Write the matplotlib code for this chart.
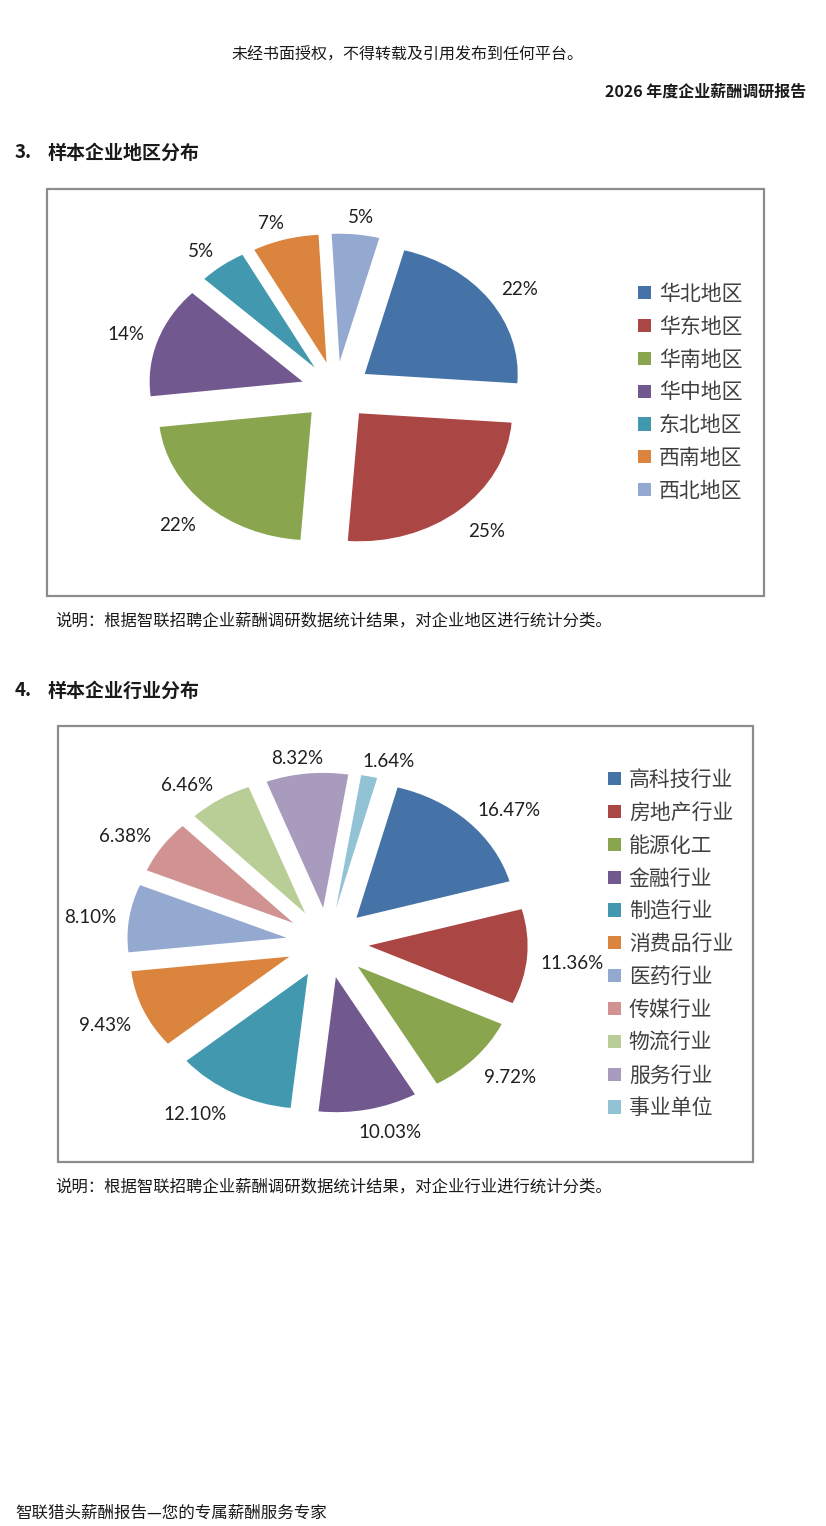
#Recreates the two exploded pie charts from the salary report page

#Imports
import matplotlib
matplotlib.use('Agg')
import numpy as np
import matplotlib.pyplot as plt
from matplotlib.patches import Rectangle

plt.rcParams['font.family'] = ['Noto Sans CJK SC', 'DejaVu Sans']

#Data - region chart
region_names = ['华北地区', '华东地区', '华南地区', '华中地区', '东北地区', '西南地区', '西北地区']
region_share = [22, 25, 22, 14, 5, 7, 5]
region_colors = ['#4572A7', '#AA4643', '#89A54E', '#71588F', '#4198AF', '#DB843D', '#93A9CF']

#Data - industry chart
industry_names = ['高科技行业', '房地产行业', '能源化工', '金融行业', '制造行业', '消费品行业',
                  '医药行业', '传媒行业', '物流行业', '服务行业', '事业单位']
industry_share = [16.47, 11.36, 9.72, 10.03, 12.10, 9.43, 8.10, 6.38, 6.46, 8.32, 1.64]
industry_colors = ['#4572A7', '#AA4643', '#89A54E', '#71588F', '#4198AF', '#DB843D',
                   '#93A9CF', '#D19392', '#B9CD96', '#A99BBD', '#91C3D5']

W, H = 826, 1526
fig = plt.figure(figsize=(W / 100, H / 100), dpi=100)
renderer = fig.canvas.get_renderer()

def fx(x):
    return x / W

def fy(y):
    return 1 - y / H

def page_text(x, y, s, size=11.5, bold=False, ha='left'):
    fig.text(fx(x), fy(y), s, fontsize=size, fontweight='bold' if bold else 'normal',
             ha=ha, va='center', color='#1a1a1a')

def frame_box(x0, y0, x1, y1):
    fig.add_artist(Rectangle((fx(x0), fy(y1)), (x1 - x0) / W, (y1 - y0) / H,
                             transform=fig.transFigure, fill=False,
                             edgecolor='#8c8c8c', lw=1.6))

def outside_end(wedges, texts, sx, sy, gap):
    """
    Move the percent labels just outside the rim, like the 'outside end' labels of
    office charts: the label box is pushed sideways by its own half width/height.
    """
    for w, t in zip(wedges, texts):
        b = np.deg2rad((w.theta1 + w.theta2) / 2)
        c, s = np.cos(b), np.sin(b)
        ex, ey = w.center
        bb = t.get_window_extent(renderer)
        hw, hh = bb.width / 2, bb.height / 2 - 2
        ox = gap * c + hw * np.clip(3 * c, -1, 1)
        oy = gap * s + hh * np.clip(3 * s, -1, 1) - 4  #small downward nudge
        t.set_position((ex + c + ox / sx, ey + s + oy / sy))

def exploded_pie(rect, cx, cy, sx, sy, values, colors, names, fmt, expl,
                 leg_xy, leg_size, leg_space, gap):
    """
    Draw one pie into the pixel rectangle rect=(x0,y0,x1,y1).
    cx, cy: pie center in pixels, sx, sy: pixels per radius unit (pie is a bit flat)
    """
    x0, y0, x1, y1 = rect
    ax = fig.add_axes([fx(x0), fy(y1), (x1 - x0) / W, (y1 - y0) / H])
    wedges, _, pct = ax.pie(values, colors=colors, startangle=75, counterclock=False,
                            explode=[expl] * len(values), autopct=fmt,
                            textprops=dict(family=['Lato', 'DejaVu Sans'], fontsize=13.5,
                                           color='#1f1f1f'))
    ax.set_aspect('auto')
    ax.set_xlim((x0 - cx) / sx, (x1 - cx) / sx)
    ax.set_ylim((cy - y1) / sy, (cy - y0) / sy)
    ax.axis('off')
    outside_end(wedges, pct, sx, sy, gap)
    ax.legend(wedges, names, loc='upper left', bbox_to_anchor=(fx(leg_xy[0]), fy(leg_xy[1])),
              bbox_transform=fig.transFigure, frameon=False, fontsize=leg_size,
              handlelength=0.6, handleheight=0.6, handletextpad=0.4,
              labelspacing=leg_space, borderpad=0, borderaxespad=0, labelcolor='#404040')
    return ax

#Page header texts
page_text(407, 55, '未经书面授权，不得转载及引用发布到任何平台。', ha='center')
page_text(806, 92, '2026 年度企业薪酬调研报告', size=11.5, bold=True, ha='right')

#Section 3 - regions
page_text(15, 153, '3.', size=13.5, bold=True)
page_text(48, 153, '样本企业地区分布', size=13.7, bold=True)
frame_box(47, 189, 764, 596)
exploded_pie((48, 190, 600, 595), 336, 391, 153, 128, region_share, region_colors,
             region_names, lambda p: '%.0f%%' % p, 0.23, (638, 283), 15, 0.52, 14)
page_text(55, 621, '说明：根据智联招聘企业薪酬调研数据统计结果，对企业地区进行统计分类。', size=11.8)

#Section 4 - industries
page_text(15, 691, '4.', size=13.5, bold=True)
page_text(48, 691, '样本企业行业分布', size=13.7, bold=True)
frame_box(58, 726, 753, 1162)
exploded_pie((59, 727, 590, 1161), 327.4, 942.8, 159, 135, industry_share, industry_colors,
             industry_names, '%.2f%%', 0.26, (608, 769), 15, 0.52, 13)
page_text(55, 1187, '说明：根据智联招聘企业薪酬调研数据统计结果，对企业行业进行统计分类。', size=11.8)

#Footer
page_text(15, 1513, '智联猎头薪酬报告—您的专属薪酬服务专家', size=11.9)

fig.savefig('out.png', dpi=100, facecolor='white')
